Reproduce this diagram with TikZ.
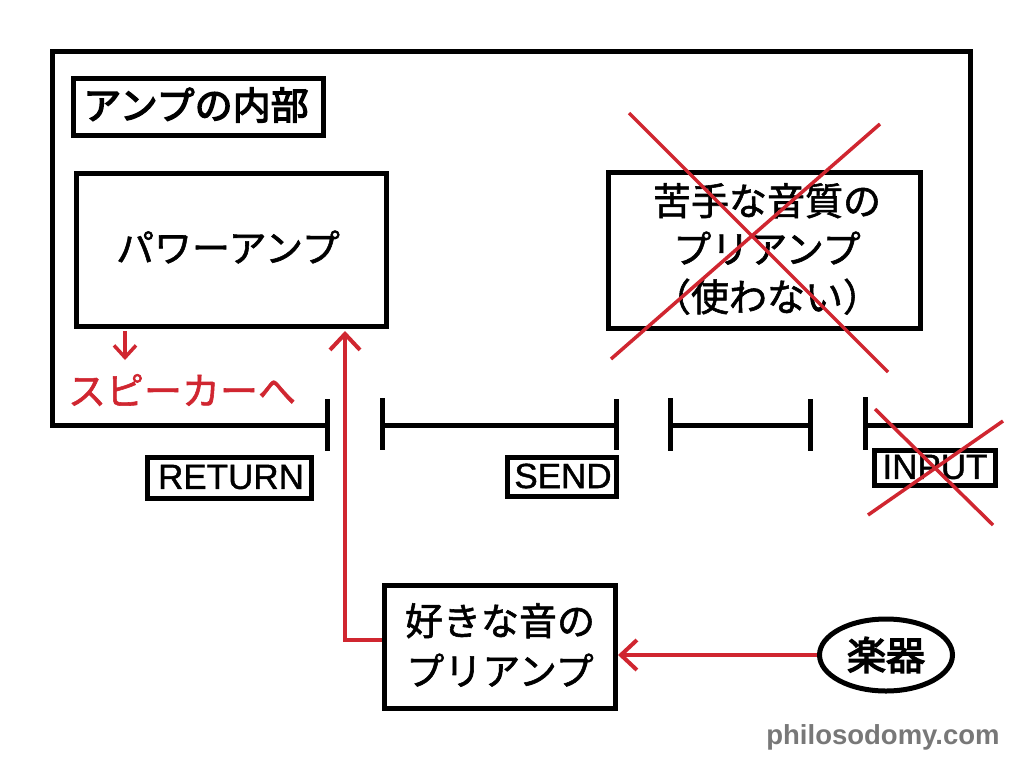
\documentclass[tikz,border=0pt]{standalone}
\usepackage{fontspec}
\setmainfont{Liberation Sans}
\newfontfamily\jp[RawFeature={embolden=1.5}]{Noto Sans CJK JP}
\newfontfamily\jpb[RawFeature={embolden=3.5}]{Noto Sans CJK JP}
\newfontfamily\lat[RawFeature={embolden=1.2}]{Liberation Sans}
\usetikzlibrary{arrows.meta,shapes.geometric,calc}
\definecolor{xred}{RGB}{208,38,48}
\definecolor{wm}{RGB}{120,120,120}
\tikzset{
  box/.style={draw=black,line width=5pt,rectangle,inner sep=0pt,fill=white},
  jtext/.style={font=\jp\fontsize{38}{48}\selectfont,align=center},
  ltext/.style={font=\lat\fontsize{35}{40}\selectfont},
  frame/.style={line width=5pt,black},
  redarrow/.style={line width=4pt,xred,-{Straight Barb[length=16pt,width=30pt,line width=4pt]}},
  cross/.style={line width=3.5pt,xred}
}
\begin{document}
\begin{tikzpicture}[x=1pt,y=-1pt]
\useasboundingbox[fill=white] (0,0) rectangle (1024,768);
% outer frame
\draw[frame,line join=miter] (327,425) -- (52,425) -- (52,52) -- (970,52) -- (970,425) -- (865,425);
% jacks
\draw[frame] (327,399) -- (327,451);
\draw[frame] (382,398) -- (382,450);
\draw[frame] (382,425) -- (616,425);
\draw[frame] (616,399) -- (616,450);
\draw[frame] (670,398) -- (670,451);
\draw[frame] (670,425) -- (810,425);
\draw[frame] (810,399) -- (810,451);
\draw[frame] (865,397) -- (865,450);
% boxes
\node[box,minimum width=250,minimum height=57] (title) at (198.5,107) {};
\node[jtext,font=\jpb\fontsize{38}{48}\selectfont] at (196,105) {アンプの内部};
\node[box,minimum width=310,minimum height=153] (pa) at (231.5,250) {};
\node[jtext] at (228,247) {パワーアンプ};
\node[box,minimum width=312,minimum height=156] (bad) at (764.5,250.5) {};
\node[jtext] at (767,249) {苦手な音質の\\プリアンプ\\（使わない）};
\node[box,minimum width=231,minimum height=123] (pre) at (500,647) {};
\node[jtext,font=\jp\fontsize{38}{50}\selectfont] at (500,645) {好きな音の\\プリアンプ};
\node[box,minimum width=164,minimum height=41] (ret) at (229,477.5) {};
\node[ltext] at (231,477) {RETURN};
\node[box,minimum width=109,minimum height=39] (send) at (561.5,476.5) {};
\node[ltext] at (563,476) {SEND};
\node[box,minimum width=121,minimum height=35] (inp) at (934.5,467.5) {};
\node[ltext] at (935,467) {INPUT};
\node[draw=black,line width=5pt,ellipse,minimum width=133,minimum height=72,inner sep=0pt,font=\jpb\fontsize{39}{40}\selectfont] (inst) at (886,655) {楽器};
% speaker
\node[jtext,text=xred] (spk) at (182,390) {スピーカーへ};
\coordinate (spkA) at (125,331);
\coordinate (spkB) at (125,360);
\draw[line width=3.5pt,xred,-{Straight Barb[length=12pt,width=22pt,line width=3.5pt]}] (spkA) -- (spkB);
% red connectors
\coordinate (paIn) at (345,331);
\draw[redarrow] ([yshift=7pt]pre.west) -| (paIn);
\draw[redarrow] (inst.west) -- (inst.west -| pre.east);
% crosses
\draw[cross] (629,113) -- (888,372);
\draw[cross] (880,124) -- (611,359);
\draw[cross] (875,409) -- (993,525);
\draw[cross] (1003,421) -- (868,515);
% watermark
\node[font=\bfseries\fontsize{27.5}{30}\selectfont,text=wm] (wmk) at (883,737) {philosodomy.com};
\end{tikzpicture}
\end{document}
